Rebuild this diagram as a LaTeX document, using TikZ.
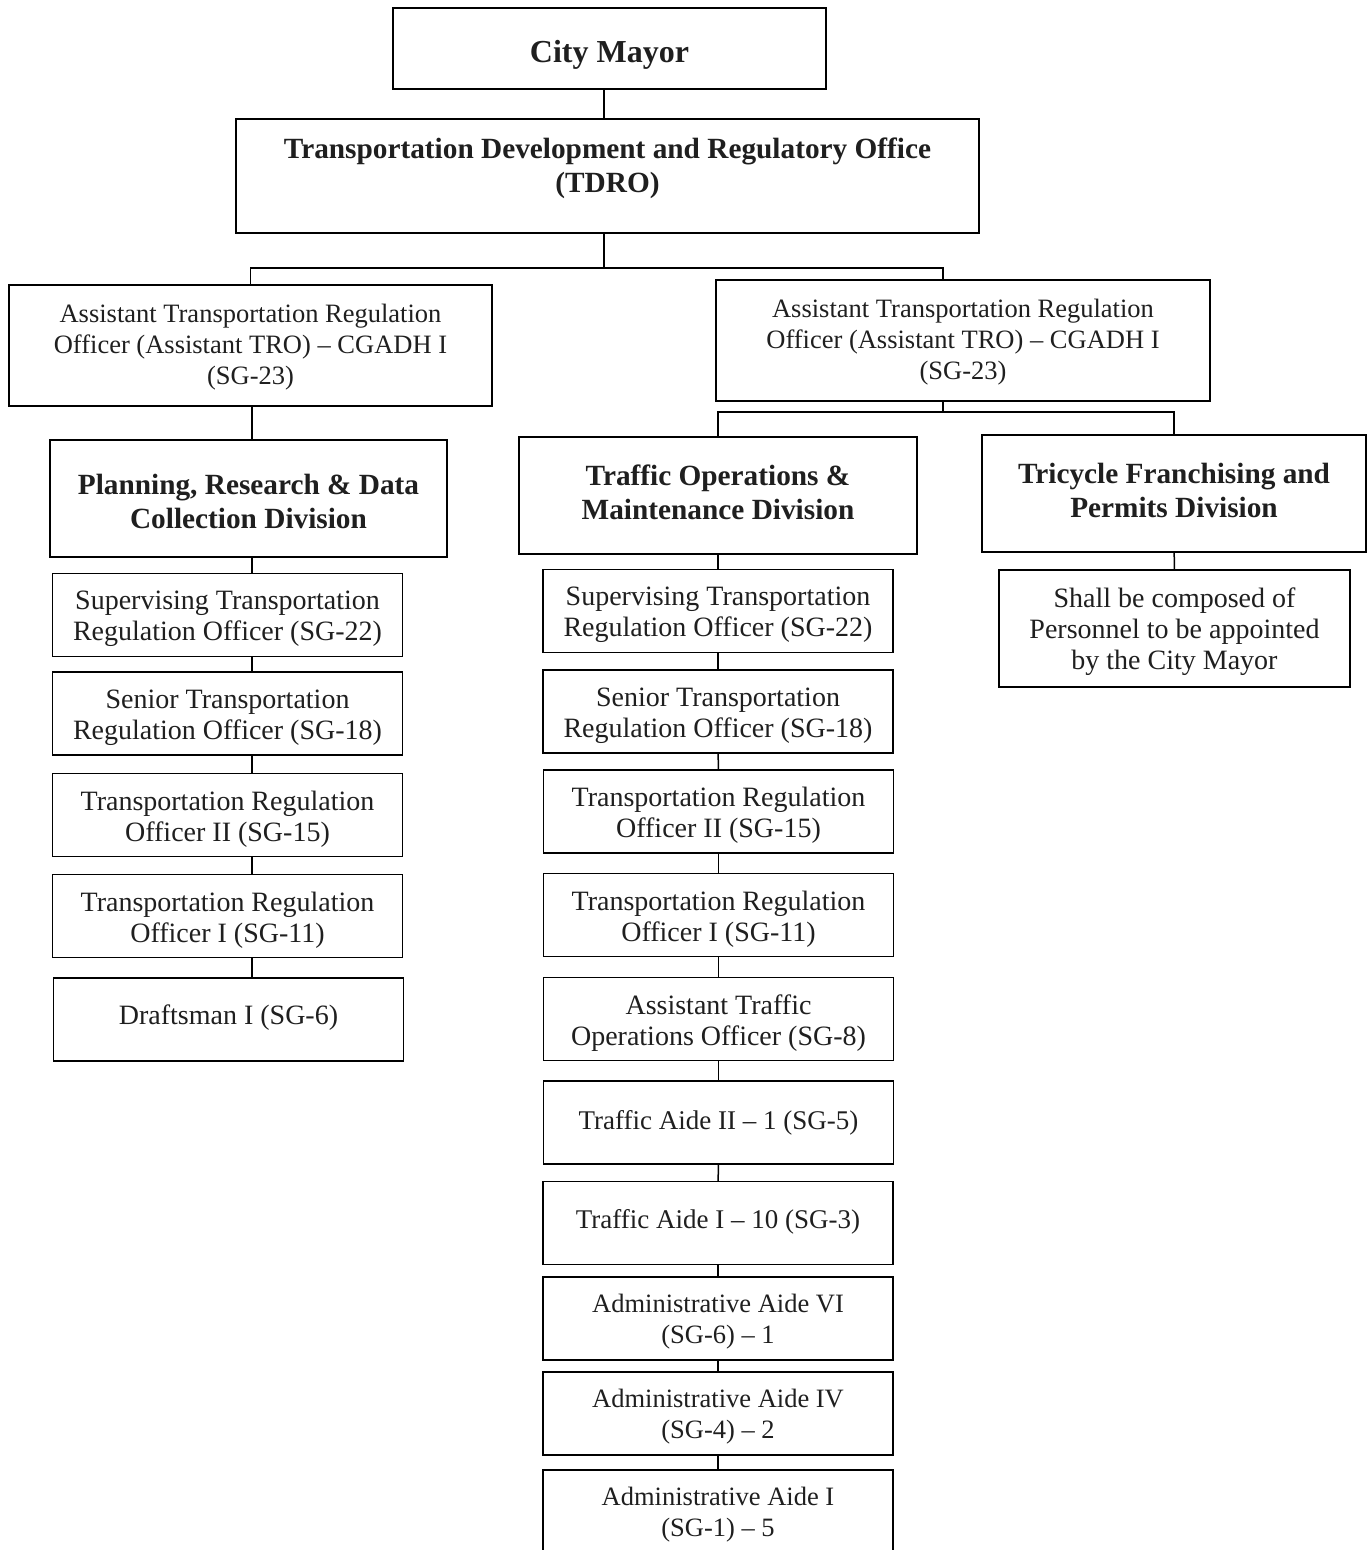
\documentclass[tikz,border=0pt]{standalone}
\usepackage{fontspec}
\setmainfont{Liberation Serif}
\newcommand\smfnt{\fontsize{26.5}{31}\selectfont}
\newcommand\mdfnt{\fontsize{27}{31}\selectfont}
\newcommand\lgfnt{\fontsize{28}{31}\selectfont}
\newcommand\headfnt{\fontsize{29.3}{34}\selectfont\bfseries}
\begin{document}
\begin{tikzpicture}[x=1pt,y=-1pt,
  box/.style={draw, line width=1.5pt, inner sep=0pt},
  txt/.style={align=center, inner sep=0pt, text=black!88},
  conn/.style={line width=1.5pt},
  cbox/.style={box, minimum width=350pt, minimum height=83pt}]
\useasboundingbox (0,0) rectangle (1371,1550);
\fill[white] (0,0) rectangle (1371,1550);
% top
\node[box, minimum width=433pt, minimum height=81pt] (mayor) at (609.5,48.5) {};
\node[txt, font=\fontsize{32}{36}\selectfont\bfseries] (mayor-t) at ([yshift=-6pt]mayor.center) {City Mayor};
\node[box, minimum width=743pt, minimum height=114pt] (tdro) at (607.5,176) {};
\node[txt, font=\headfnt] (tdro-t) at ([yshift=8pt]tdro.center) {Transportation Development and Regulatory Office\\(TDRO)};
\node[box, minimum width=483pt, minimum height=121pt] (atroL) at (250.5,345.5) {};
\node[txt, font=\smfnt] (atroL-t) at ([yshift=-2pt]atroL.center) {Assistant Transportation Regulation\\Officer (Assistant TRO) -- CGADH I\\(SG-23)};
\node[box, minimum width=494pt, minimum height=121pt] (atroR) at (963,340.5) {};
\node[txt, font=\smfnt] (atroR-t) at ([yshift=-2pt]atroR.center) {Assistant Transportation Regulation\\Officer (Assistant TRO) -- CGADH I\\(SG-23)};
% divisions
\node[box, minimum width=397pt, minimum height=117pt] (plan) at (248.5,498.5) {};
\node[txt, font=\headfnt] (plan-t) at ([yshift=-3pt]plan.center) {Planning, Research \& Data\\Collection Division};
\node[box, minimum width=398pt, minimum height=117pt] (traf) at (718,495.5) {};
\node[txt, font=\headfnt] (traf-t) at ([yshift=3pt]traf.center) {Traffic Operations \&\\Maintenance Division};
\node[box, minimum width=384pt, minimum height=117pt] (tri) at (1174,493.5) {};
\node[txt, font=\headfnt] (tri-t) at ([yshift=3pt]tri.center) {Tricycle Franchising and\\Permits Division};
\node[box, minimum width=351pt, minimum height=117pt] (shall) at (1174.5,628.5) {};
\node[txt, font=\lgfnt] (shall-t) at ([yshift=-3pt]shall.center) {Shall be composed of\\Personnel to be appointed\\by the City Mayor};
% left column
\node[cbox] (lsup) at (227.5,615) {};
\node[txt, font=\lgfnt] (lsup-t) at ([yshift=-4pt]lsup.center) {Supervising Transportation\\Regulation Officer (SG-22)};
\node[cbox] (lsen) at (227.5,713.5) {};
\node[txt, font=\lgfnt] (lsen-t) at ([yshift=-4pt]lsen.center) {Senior Transportation\\Regulation Officer (SG-18)};
\node[cbox] (ltwo) at (227.5,815) {};
\node[txt, font=\lgfnt] (ltwo-t) at ([yshift=-4pt]ltwo.center) {Transportation Regulation\\Officer II (SG-15)};
\node[cbox] (lone) at (227.5,916) {};
\node[txt, font=\lgfnt] (lone-t) at ([yshift=-4pt]lone.center) {Transportation Regulation\\Officer I (SG-11)};
\node[cbox] (ldra) at (228.5,1019.5) {};
\node[txt, font=\lgfnt] (ldra-t) at ([yshift=2pt]ldra.center) {Draftsman I (SG-6)};
% middle column
\node[cbox] (msup) at (718,611) {};
\node[txt, font=\lgfnt] (msup-t) at ([yshift=-4pt]msup.center) {Supervising Transportation\\Regulation Officer (SG-22)};
\node[cbox] (msen) at (718,711.5) {};
\node[txt, font=\lgfnt] (msen-t) at ([yshift=-4pt]msen.center) {Senior Transportation\\Regulation Officer (SG-18)};
\node[cbox] (mtwo) at (718.5,811.5) {};
\node[txt, font=\lgfnt] (mtwo-t) at ([yshift=-4pt]mtwo.center) {Transportation Regulation\\Officer II (SG-15)};
\node[cbox] (mone) at (718.5,915) {};
\node[txt, font=\lgfnt] (mone-t) at ([yshift=-4pt]mone.center) {Transportation Regulation\\Officer I (SG-11)};
\node[cbox] (mato) at (718.5,1019) {};
\node[txt, font=\lgfnt] (mato-t) at ([yshift=-4pt]mato.center) {Assistant Traffic\\Operations Officer (SG-8)};
\node[cbox] (mta2) at (718.5,1122.5) {};
\node[txt, font=\mdfnt] (mta2-t) at (mta2.center) {Traffic Aide II -- 1 (SG-5)};
\node[cbox] (mta1) at (718,1223) {};
\node[txt, font=\mdfnt] (mta1-t) at ([yshift=1pt]mta1.center) {Traffic Aide I -- 10 (SG-3)};
\node[cbox] (mad6) at (718,1318.5) {};
\node[txt, font=\smfnt] (mad6-t) at ([yshift=-3pt]mad6.center) {Administrative Aide VI\\(SG-6) -- 1};
\node[cbox] (mad4) at (718,1413.5) {};
\node[txt, font=\smfnt] (mad4-t) at ([yshift=-3pt]mad4.center) {Administrative Aide IV\\(SG-4) -- 2};
\node[box, minimum width=350pt, minimum height=86pt] (mad1) at (718,1513) {};
\node[txt, font=\smfnt] (mad1-t) at ([yshift=-1.5pt]mad1.center) {Administrative Aide I\\(SG-1) -- 5};
% connector coordinates
\coordinate (mx) at (604,0);
\coordinate (rx) at (943,0);
\coordinate (lx) at (252,0);
\coordinate (bus1) at (604,268);
\coordinate (bus2) at (943,412);
% connectors
\draw[conn] (mayor.south -| mx) -- (tdro.north -| mx);
\draw[conn] (tdro.south -| mx) -- (bus1);
\draw[conn] (atroL.north) |- (bus1) -| (atroR.north -| rx);
\draw[conn] (atroL.south -| lx) -- (plan.north -| lx);
\draw[conn] (atroR.south -| rx) -- (bus2);
\draw[conn] (traf.north) |- (bus2) -| (tri.north);
\draw[conn] (tri) -- (shall);
\draw[conn] (plan.south -| lx) -- (lsup.north -| lx);
\draw[conn] (lsup.south -| lx) -- (lsen.north -| lx);
\draw[conn] (lsen.south -| lx) -- (ltwo.north -| lx);
\draw[conn] (ltwo.south -| lx) -- (lone.north -| lx);
\draw[conn] (lone.south -| lx) -- (ldra.north -| lx);
\draw[conn] (traf) -- (msup);
\draw[conn] (msup) -- (msen);
\draw[conn] (msen) -- (mtwo);
\draw[conn] (mtwo) -- (mone);
\draw[conn] (mone) -- (mato);
\draw[conn] (mato) -- (mta2);
\draw[conn] (mta2) -- (mta1);
\draw[conn] (mta1) -- (mad6);
\draw[conn] (mad6) -- (mad4);
\draw[conn] (mad4) -- (mad1);
\end{tikzpicture}
\end{document}
